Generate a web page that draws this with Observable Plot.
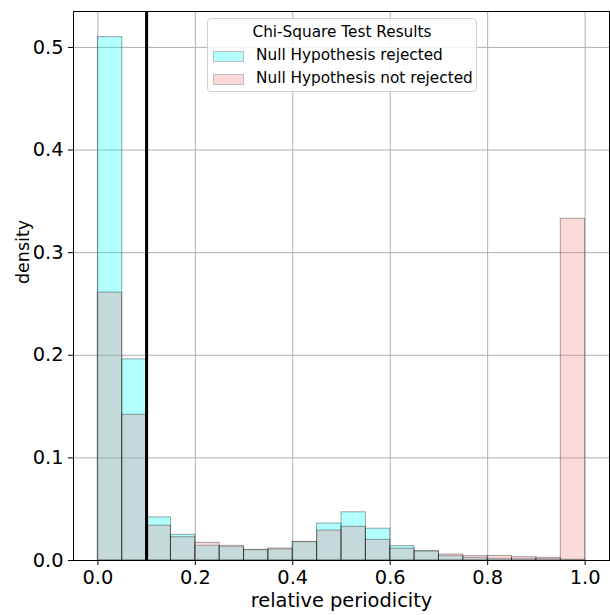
<!DOCTYPE html>
<html>
<head>
<meta charset="utf-8">
<script src="https://cdn.jsdelivr.net/npm/d3@7"></script>
<script src="https://cdn.jsdelivr.net/npm/@observablehq/plot@0.6"></script>
<style>
  html, body { margin: 0; padding: 0; background: #fff; }
  #wrap { position: relative; width: 610px; height: 615px; font-family: "DejaVu Sans", sans-serif; }
  #legend {
    position: absolute; left: 207px; top: 18px; width: 270px; height: 74px;
    border: 1px solid #d0d0d0; border-radius: 4px; background: rgba(255,255,255,0.8);
    box-sizing: border-box; font-size: 15.3px; color: #000; line-height: 1;
  }
  #legend .title { position: absolute; left: 0; right: 0; top: 6px; text-align: center; }
  #legend .row { position: absolute; left: 5px; height: 18px; display: flex; align-items: center; white-space: nowrap; }
  #legend .sw { width: 31px; height: 11px; box-sizing: border-box; margin-right: 12px; }
</style>
</head>
<body>
<div id="wrap"></div>
<script>
// Bin left edges (width 0.05) of the histogram
const binStarts = [0.00, 0.05, 0.10, 0.15, 0.20, 0.25, 0.30, 0.35, 0.40, 0.45,
                   0.50, 0.55, 0.60, 0.65, 0.70, 0.75, 0.80, 0.85, 0.90, 0.95];
const binWidth = 0.05;
// Density of "Null Hypothesis rejected"
const rejected = [0.510, 0.196, 0.042, 0.025, 0.0143, 0.013, 0.0100, 0.0107, 0.0178, 0.036,
                  0.047, 0.031, 0.014, 0.0091, 0.0042, 0.0023, 0.0016, 0.0013, 0.0013, 0.0008];
// Density of "Null Hypothesis not rejected"
const notRejected = [0.261, 0.142, 0.034, 0.0227, 0.0172, 0.0143, 0.0104, 0.0117, 0.0182, 0.0292,
                     0.0328, 0.0201, 0.0115, 0.0088, 0.0058, 0.0042, 0.0045, 0.0032, 0.0026, 0.333];
const seriesNames = ["Null Hypothesis rejected", "Null Hypothesis not rejected"];
const seriesColors = ["#00ffff", "#f08080"];
const threshold = 0.1;
const xTicks = [0, 0.2, 0.4, 0.6, 0.8, 1.0];
const yTicks = [0, 0.1, 0.2, 0.3, 0.4, 0.5];
const xLabel = "relative periodicity";
const yLabel = "density";
const legendTitle = "Chi-Square Test Results";

const rows = [];
[rejected, notRejected].forEach((vals, s) => {
  vals.forEach((v, i) => rows.push({series: seriesNames[s], x1: binStarts[i], x2: binStarts[i] + binWidth, y: v}));
});

const chart = Plot.plot({
  width: 610,
  height: 615,
  marginLeft: 73,
  marginRight: 1,
  marginTop: 11,
  marginBottom: 55,
  style: {fontFamily: "DejaVu Sans, sans-serif", fontSize: "19.4px", color: "#000", background: "#fff"},
  x: {domain: [-0.05, 1.05]},
  y: {domain: [0, 0.535]},
  color: {domain: seriesNames, range: seriesColors},
  marks: [
    Plot.gridX(xTicks, {stroke: "#b0b0b0", strokeOpacity: 1, strokeWidth: 1}),
    Plot.gridY(yTicks, {stroke: "#b0b0b0", strokeOpacity: 1, strokeWidth: 1}),
    Plot.rectY(rows, {x1: "x1", x2: "x2", y1: 0, y2: "y", fill: "series", fillOpacity: 0.3,
      stroke: "#000", strokeOpacity: 0.35, strokeWidth: 1, inset: 0}),
    Plot.ruleX([threshold], {stroke: "#000", strokeWidth: 3}),
    Plot.frame({stroke: "#000", strokeWidth: 1}),
    Plot.axisX({ticks: xTicks, tickFormat: d3.format(".1f"), tickSize: 5, tickPadding: 5,
      label: null, fontSize: 19.4}),
    Plot.axisY({ticks: yTicks, tickFormat: d3.format(".1f"), tickSize: 5, tickPadding: 5,
      label: null, fontSize: 19.4}),
    Plot.text([xLabel], {frameAnchor: "bottom", dy: 46, lineAnchor: "bottom", fontSize: 19.4, fill: "#000"}),
    Plot.text([yLabel], {frameAnchor: "left", dx: -50, dy: -2, rotate: -90, lineAnchor: "middle", fontSize: 17.5, fill: "#000"})
  ]
});

const wrap = document.getElementById("wrap");
wrap.appendChild(chart);

const legend = document.createElement("div");
legend.id = "legend";
let html = `<div class="title">${legendTitle}</div>`;
seriesNames.forEach((name, i) => {
  const c = d3.color(seriesColors[i]);
  const mix = d3.rgb(255 * 0.7 + c.r * 0.3, 255 * 0.7 + c.g * 0.3, 255 * 0.7 + c.b * 0.3);
  html += `<div class="row" style="top:${28 + i * 23}px"><div class="sw" style="background:${mix.formatHex()};border:1px solid #bdbdbd"></div><span>${name}</span></div>`;
});
legend.innerHTML = html;
wrap.appendChild(legend);
</script>
</body>
</html>
